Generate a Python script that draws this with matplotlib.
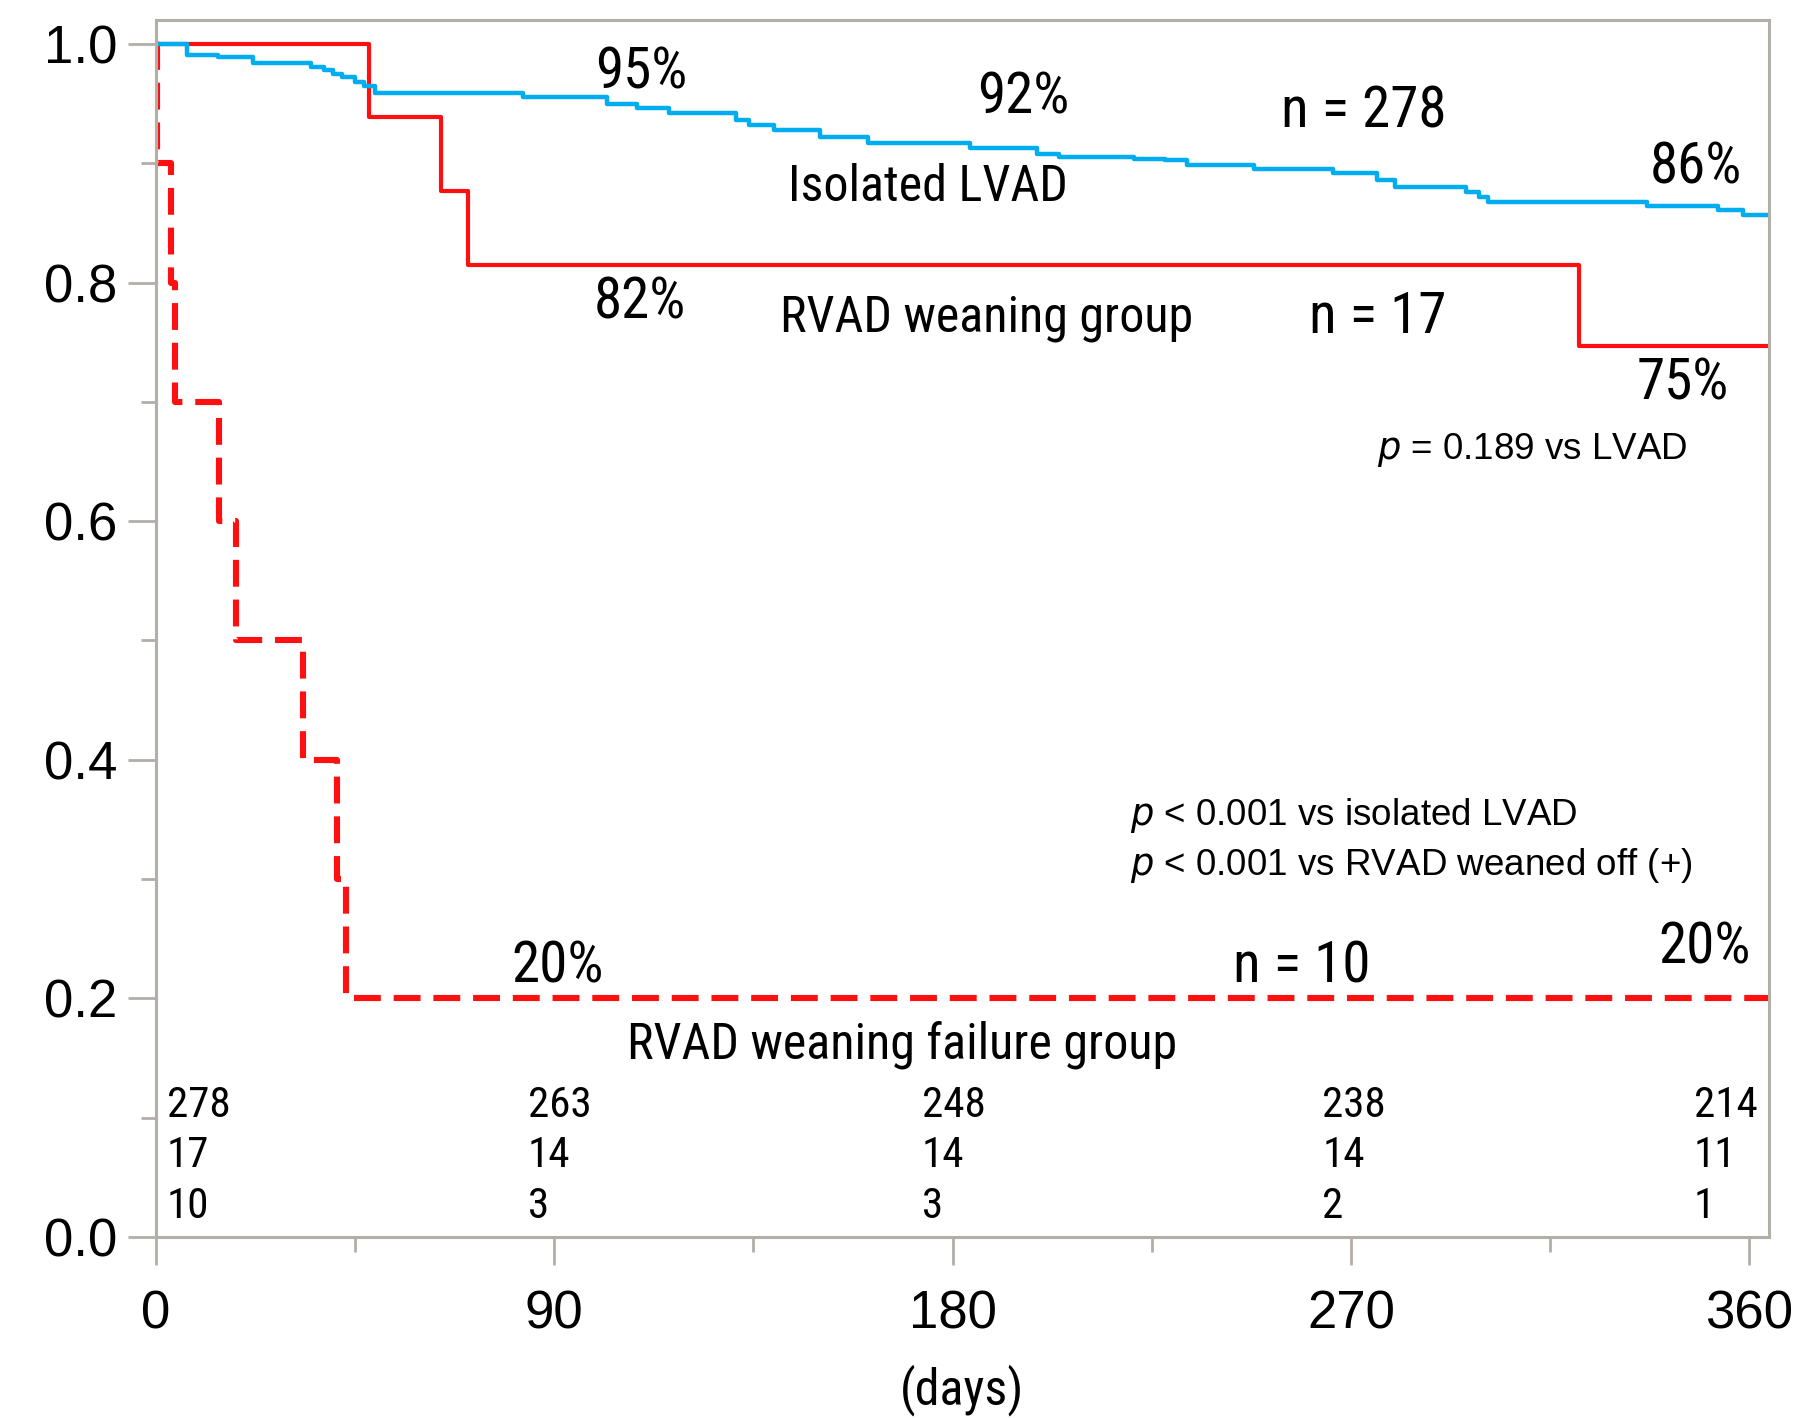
import matplotlib
matplotlib.use("Agg")
import matplotlib.pyplot as plt
from matplotlib import font_manager
from matplotlib.ticker import MultipleLocator, FormatStrFormatter

# --- data ---
lvad_t = [0, 7, 14, 22, 35, 38, 40, 42, 45, 47, 49.5, 83, 102, 108.6, 116, 131, 134, 139.7,
          150, 161, 184, 199, 204, 221, 228, 233, 248, 266, 276, 280, 296, 299, 301, 337,
          353, 358.5, 364.4]
lvad_s = [1.0, 0.991, 0.989, 0.984, 0.981, 0.978, 0.975, 0.972, 0.968, 0.965, 0.959, 0.956,
          0.950, 0.946, 0.942, 0.936, 0.932, 0.928, 0.922, 0.917, 0.913, 0.908, 0.905, 0.904,
          0.903, 0.899, 0.895, 0.892, 0.886, 0.880, 0.876, 0.872, 0.868, 0.864, 0.861, 0.857,
          0.857]

wean_t = [0, 48.2, 64.3, 70.4, 321.5, 364.4]
wean_s = [1.0, 0.939, 0.877, 0.815, 0.747, 0.747]

fail_t = [0, 0.3, 3.4, 4.4, 14.3, 18.2, 33.2, 40.9, 42.9, 364.4]
fail_s = [1.0, 0.9, 0.8, 0.7, 0.6, 0.5, 0.4, 0.3, 0.2, 0.2]

risk_days = [0, 90, 180, 270, 360]
risk_lvad = ["278", "263", "248", "238", "214"]
risk_wean = ["17", "14", "14", "14", "11"]
risk_fail = ["10", "3", "3", "2", "1"]

# condensed face if one is installed, else plain Liberation Sans made a bit smaller
installed = {f.name for f in font_manager.fontManager.ttflist}
narrow = None
for name in ["Liberation Sans Narrow", "Roboto Condensed", "Arial Narrow"]:
    if name in installed:
        narrow = name
        break
if narrow:
    fam = [narrow, "Liberation Sans", "DejaVu Sans"]
    sz_num, sz_word, sz_risk, sz_days = 41, 36, 31, 36
else:
    fam = ["Liberation Sans", "DejaVu Sans"]
    sz_num, sz_word, sz_risk, sz_days = 35, 32, 28, 32

plt.rcParams["font.family"] = ["Liberation Sans", "DejaVu Sans"]

blue = "#00aeef"
red = "#ff1010"
grey = "#b3aea8"

fig = plt.figure(figsize=(18.09, 14.18), dpi=100)
ax = fig.add_axes([0.0862, 0.1278, 0.8915, 0.8582])

ax.step(fail_t, fail_s, where="post", color=red, lw=4.4, dashes=(4.4, 2.1), zorder=2)
ax.step(wean_t, wean_s, where="post", color=red, lw=3.0, zorder=3)
ax.step(lvad_t, lvad_s, where="post", color=blue, lw=3.2, zorder=4)

ax.set_xlim(0, 364.4)
ax.set_ylim(0, 1.0203)
ax.xaxis.set_major_locator(MultipleLocator(90))
ax.xaxis.set_minor_locator(MultipleLocator(45))
ax.yaxis.set_major_locator(MultipleLocator(0.2))
ax.yaxis.set_minor_locator(MultipleLocator(0.1))
ax.yaxis.set_major_formatter(FormatStrFormatter("%.1f"))

for sp in ax.spines.values():
    sp.set_color(grey)
    sp.set_linewidth(2.2)
    sp.set_zorder(5)

ax.tick_params(axis="both", which="major", direction="out", color=grey, width=2,
               length=20, labelsize=38)
ax.tick_params(axis="both", which="minor", direction="out", color=grey, width=2, length=11)
ax.tick_params(axis="x", which="major", pad=18)
ax.tick_params(axis="y", which="major", pad=8)

ax.set_xlabel("(days)", fontsize=sz_days, labelpad=18, family=fam)

# curve annotations
num = dict(fontsize=sz_num, family=fam, ha="center", va="center")
word = dict(fontsize=sz_word, family=fam, ha="center", va="center")
ax.text(109.6, 0.976, "95%", **num)
ax.text(196, 0.955, "92%", **num)
ax.text(272.8, 0.943, "n = 278", **num)
ax.text(348, 0.896, "86%", **num)
ax.text(174.4, 0.880, "Isolated LVAD", **word)
ax.text(109.3, 0.783, "82%", **num)
ax.text(187.7, 0.770, "RVAD weaning group", **word)
ax.text(276, 0.771, "n = 17", **num)
ax.text(345, 0.715, "75%", **num)
ax.text(90.8, 0.226, "20%", **num)
ax.text(259, 0.226, "n = 10", **num)
ax.text(350, 0.242, "20%", **num)
ax.text(168.7, 0.161, "RVAD weaning failure group", **word)

pv = dict(fontsize=26.5, ha="left", va="center")
ax.text(275.9, 0.660, r"$\it{p}$ = 0.189 vs LVAD", **pv)
ax.text(220, 0.353, r"$\it{p}$ < 0.001 vs isolated LVAD", **pv)
ax.text(220, 0.311, r"$\it{p}$ < 0.001 vs RVAD weaned off (+)", **pv)

# number at risk
risk_x = [2.5, 84, 173, 263.5, 347.5]
for i, d in enumerate(risk_days):
    ax.text(risk_x[i], 0.110, risk_lvad[i], fontsize=sz_risk, family=fam, ha="left", va="center")
    ax.text(risk_x[i], 0.068, risk_wean[i], fontsize=sz_risk, family=fam, ha="left", va="center")
    ax.text(risk_x[i], 0.025, risk_fail[i], fontsize=sz_risk, family=fam, ha="left", va="center")

fig.savefig("out.png", dpi=100)
